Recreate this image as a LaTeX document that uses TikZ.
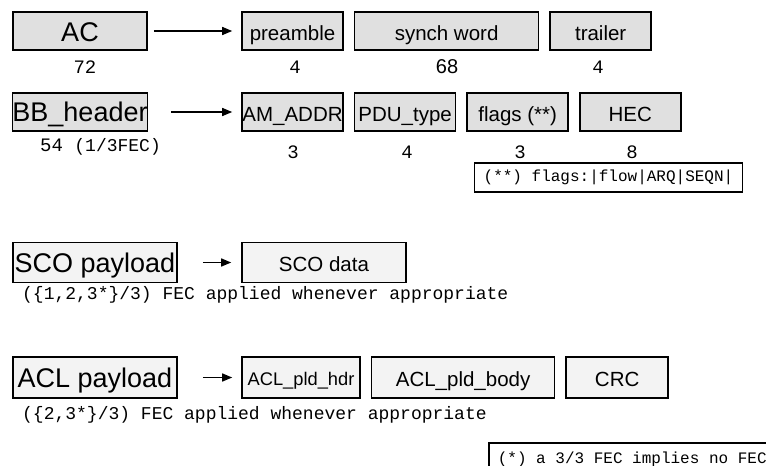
\documentclass[tikz,border=0pt]{standalone}
\usepackage{fontspec}
\setmainfont{Liberation Sans}
\setmonofont{Liberation Mono}
\usetikzlibrary{arrows.meta,positioning}
\definecolor{fieldgray}{RGB}{224,224,224}
\definecolor{paygray}{RGB}{243,243,243}

\begin{document}
\begin{tikzpicture}[x=1pt,y=-1pt,->,>={Stealth[length=10pt,width=8pt,inset=0pt]},
                    node distance=10pt]
  \tikzstyle{packet}=[draw=black,line width=1.6pt,fill=fieldgray,inner sep=0pt,
                      minimum height=38pt,text height=21pt,text depth=1pt,
                      font=\fontsize{27}{32}\selectfont]
  \tikzstyle{field}=[packet,minimum width=101pt,text height=19pt,text depth=1pt,
                     font=\fontsize{20.5}{25}\selectfont]
  \tikzstyle{payload}=[packet,fill=paygray,minimum width=164pt,minimum height=40pt]
  \tikzstyle{bits}=[inner sep=0pt,font=\ttfamily\fontsize{19}{22}\selectfont]
  \tikzstyle{remark}=[inner sep=0pt,anchor=west,font=\ttfamily\fontsize{18}{22}\selectfont]
  \tikzstyle{note}=[draw=black,line width=1.6pt,fill=white,inner xsep=9pt,
                    font=\ttfamily\fontsize{16}{19}\selectfont]
  \tikzstyle{link}=[line width=1.4pt]

  \useasboundingbox (0,0) rectangle (766,466);

  % access code
  \node[packet,minimum width=134pt] (AC) at (80,31) {AC};
  \node[field] (pre) at (292.5,31) {preamble};
  \node[field,minimum width=184pt] (sync) [right=of pre] {synch word};
  \node[field] (trail) [right=of sync] {trailer};
  \node[bits] (nAC) at (85,67) {72};
  \node[bits] (npre) at (295,67) {4};
  \node[bits,font=\fontsize{20}{24}\selectfont] (nsync) at (447,67) {68};
  \node[bits] (ntrail) at (598,67) {4};

  % header
  \node[packet,minimum width=134pt,text height=19pt] (BB) at (80,112) {BB\_header};
  \node[field] (am) at (292.5,112) {AM\_ADDR};
  \node[field] (pdu) [right=of am] {PDU\_type};
  \node[field] (flg) [right=of pdu] {flags (**)};
  \node[field] (hec) [right=of flg] {HEC};
  \node[bits,anchor=west] (nBB) at (40,147) {54 {\fontsize{18}{22}\selectfont(1/3FEC)}};
  \node[bits] (nam) at (293,152) {3};
  \node[bits] (npdu) at (407,152) {4};
  \node[bits] (nflg) at (520,152) {3};
  \node[bits] (nhec) at (632,152) {8};
  \node[note,minimum height=29pt] (flagnote) at (608.5,177.5) {(**) flags:|flow|ARQ|SEQN|};

  % SCO
  \node[payload] (sco) at (95,262.5) {SCO payload};
  \node[payload,text height=19pt,font=\fontsize{20.5}{25}\selectfont] (scodata) at (324,262.5) {SCO data};
  \node[remark] (scofec) at (22,295) {(\{1,2,3*\}/3) FEC applied whenever appropriate};

  % ACL
  \node[payload,minimum height=41pt] (acl) at (95,377.5) {ACL payload};
  \node[payload,minimum height=41pt,minimum width=118pt,text height=17pt,
        font=\fontsize{18.3}{22}\selectfont] (hdr) at (301,377.5) {ACL\_pld\_hdr};
  \node[payload,minimum height=41pt,minimum width=183pt,text height=19pt,
        font=\fontsize{20.5}{25}\selectfont] (body) [right=of hdr] {ACL\_pld\_body};
  \node[payload,minimum height=41pt,minimum width=102pt,text height=19pt,
        font=\fontsize{20.5}{25}\selectfont] (crc) [right=of body] {CRC};
  \node[remark] (aclfec) at (22,415) {(\{2,3*\}/3) FEC applied whenever appropriate};
  \node[note,anchor=north west,inner ysep=9pt] (fecnote) at (488,442) {(*) a 3/3 FEC implies no FEC};

  \draw[link,shorten <=6pt,shorten >=9pt] (AC) -- (pre);
  \draw[link,shorten <=23pt,shorten >=9pt] (BB) -- (am);
  \draw[link,shorten <=25pt,shorten >=10pt] (sco) -- (scodata);
  \draw[link,shorten <=25pt,shorten >=9pt] (acl) -- (hdr);
\end{tikzpicture}
\end{document}
